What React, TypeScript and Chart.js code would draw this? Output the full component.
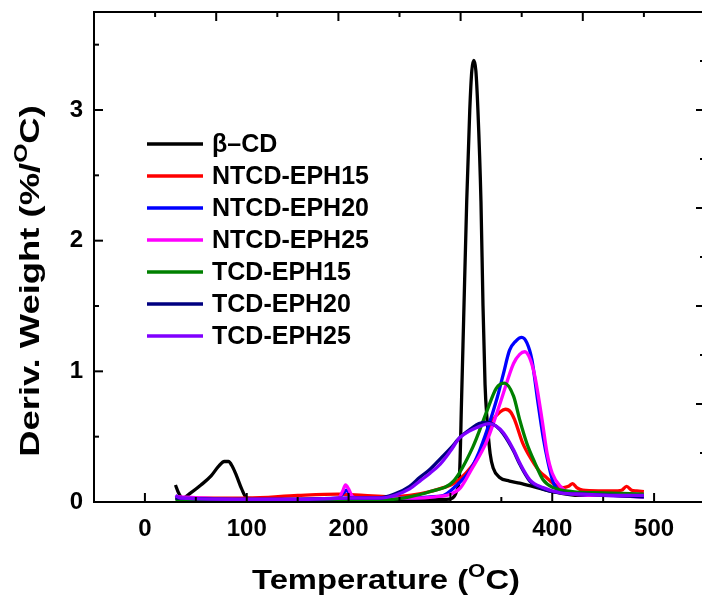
import React, { useEffect, useRef } from "react";
import { Chart, registerables } from "chart.js";

Chart.register(...registerables);

// ---------- data ----------
const seriesNames = ["β–CD", "NTCD-EPH15", "NTCD-EPH20", "NTCD-EPH25", "TCD-EPH15", "TCD-EPH20", "TCD-EPH25"];
const seriesColors = ["#000000", "#ff0000", "#0000ff", "#ff00ff", "#008000", "#000080", "#8000ff"];

const bcdT = [30, 33, 37, 45, 55, 65, 72, 78, 82, 86, 90, 95, 100, 130, 170, 210, 250, 280, 296, 302, 306, 309, 311, 313, 316, 319, 321, 323, 325, 327, 330, 332, 334, 336, 339, 342, 348, 358, 368, 385, 400, 427, 460, 490];
const bcdV = [0.13, 0.07, 0.03, 0.07, 0.13, 0.2, 0.27, 0.31, 0.31, 0.27, 0.2, 0.1, 0.03, 0.02, 0.02, 0.02, 0.02, 0.02, 0.02, 0.03, 0.08, 0.22, 0.8, 1.4, 2.3, 3.0, 3.3, 3.38, 3.3, 3.0, 2.3, 1.5, 0.9, 0.63, 0.37, 0.26, 0.19, 0.16, 0.145, 0.11, 0.08, 0.05, 0.05, 0.05];

const ntcd15T = [30, 60, 100, 150, 190, 215, 240, 260, 280, 293, 303, 315, 329, 342, 349, 354, 359, 363, 371, 380, 388, 394, 401, 411, 416, 420, 424, 430, 445, 460, 468, 473, 478, 483, 490];
const ntcd15V = [0.03, 0.03, 0.03, 0.05, 0.06, 0.05, 0.04, 0.05, 0.08, 0.11, 0.14, 0.22, 0.37, 0.63, 0.69, 0.71, 0.69, 0.63, 0.45, 0.32, 0.23, 0.19, 0.14, 0.11, 0.12, 0.14, 0.11, 0.09, 0.085, 0.085, 0.09, 0.12, 0.09, 0.085, 0.08];

const ntcd20T = [30, 100, 150, 190, 195, 198, 202, 210, 240, 265, 280, 293, 305, 319, 328, 336, 346, 352, 358, 364, 370, 375, 380, 386, 391, 396, 401, 408, 420, 450, 490];
const ntcd20V = [0.03, 0.02, 0.02, 0.03, 0.07, 0.09, 0.05, 0.03, 0.03, 0.03, 0.04, 0.05, 0.12, 0.24, 0.38, 0.55, 0.8, 0.98, 1.16, 1.23, 1.26, 1.22, 1.09, 0.76, 0.5, 0.3, 0.15, 0.08, 0.06, 0.05, 0.04];

const ntcd25T = [30, 100, 150, 190, 194, 197, 200, 204, 210, 240, 265, 285, 300, 310, 320, 336, 349, 362, 368, 373, 378, 383, 390, 395, 400, 408, 420, 450, 490];
const ntcd25V = [0.04, 0.02, 0.02, 0.03, 0.08, 0.13, 0.1, 0.04, 0.03, 0.03, 0.03, 0.04, 0.06, 0.11, 0.24, 0.47, 0.76, 1.06, 1.13, 1.15, 1.1, 0.96, 0.63, 0.37, 0.22, 0.12, 0.06, 0.05, 0.04];

const tcd15T = [30, 100, 150, 200, 240, 260, 280, 303, 322, 336, 345, 353, 362, 368, 375, 383, 391, 401, 420, 450, 490];
const tcd15V = [0.02, 0.01, 0.01, 0.02, 0.02, 0.04, 0.08, 0.16, 0.42, 0.7, 0.87, 0.91, 0.81, 0.63, 0.45, 0.3, 0.17, 0.11, 0.08, 0.07, 0.06];

const tcd20T = [30, 100, 150, 200, 230, 245, 260, 270, 280, 290, 300, 310, 320, 328, 336, 345, 352, 362, 368, 378, 391, 408, 430, 460, 490];
const tcd20V = [0.03, 0.02, 0.02, 0.03, 0.03, 0.06, 0.12, 0.19, 0.25, 0.33, 0.41, 0.5, 0.56, 0.6, 0.61, 0.58, 0.52, 0.39, 0.29, 0.16, 0.1, 0.07, 0.06, 0.05, 0.04];

const tcd25T = [30, 35, 100, 150, 200, 230, 245, 260, 270, 280, 290, 300, 309, 318, 326, 338, 345, 352, 362, 368, 378, 391, 408, 430, 460, 490];
const tcd25V = [0.05, 0.03, 0.02, 0.02, 0.03, 0.03, 0.05, 0.1, 0.16, 0.22, 0.29, 0.39, 0.49, 0.54, 0.57, 0.6, 0.58, 0.53, 0.4, 0.3, 0.17, 0.11, 0.07, 0.06, 0.05, 0.05];

const seriesT = [bcdT, ntcd15T, ntcd20T, ntcd25T, tcd15T, tcd20T, tcd25T];
const seriesV = [bcdV, ntcd15V, ntcd20V, ntcd25V, tcd15V, tcd20V, tcd25V];

const xMajorTicks = [0, 100, 200, 300, 400, 500];
const xMinorTicks = [50, 150, 250, 350, 450];
const yMajorTicks = [0, 1, 2, 3];
const yMinorTicks = [0.5, 1.5, 2.5, 3.5];
const topMajorTicks = [2, 4, 6, 8];
const topMinorTicks = [1, 3, 5, 7, 9];
const rightMajorTicks = [2, 4, 6, 8];
const rightMinorTicks = [1, 3, 5, 7, 9];

const xTitle = [{ t: "Temperature (" }, { t: "O", sup: true }, { t: "C)" }];
const yTitle = [{ t: "Deriv. Weight (%/" }, { t: "O", sup: true }, { t: "C)" }];

const FONT = '"Liberation Sans", Arial, Helvetica, sans-serif';
const CW = 712;
const CH = 599;

function drawRich(ctx: CanvasRenderingContext2D, parts: any[], cx: number, base: number, size: number, supSize: number, supRise: number, sx: number) {
  const widths = parts.map((p) => {
    ctx.font = `bold ${p.sup ? supSize : size}px ${FONT}`;
    return ctx.measureText(p.t).width * sx;
  });
  const total = widths.reduce((a, b) => a + b, 0);
  let x = cx - total / 2;
  parts.forEach((p, i) => {
    ctx.font = `bold ${p.sup ? supSize : size}px ${FONT}`;
    ctx.save();
    ctx.translate(x, p.sup ? base - supRise : base);
    ctx.scale(sx, 1);
    ctx.textAlign = "left";
    ctx.textBaseline = "alphabetic";
    ctx.fillText(p.t, 0, 0);
    ctx.restore();
    x += widths[i];
  });
}

const decor = {
  id: "decor",
  afterDraw(chart: any) {
    const { ctx, chartArea: a, scales } = chart;
    const xs = scales.x, ys = scales.y, x2 = scales.x2, y2 = scales.y2;
    ctx.save();
    ctx.strokeStyle = "#000";
    ctx.fillStyle = "#000";
    ctx.lineWidth = 2;
    ctx.lineCap = "butt";
    ctx.strokeRect(a.left, a.top, a.right - a.left, a.bottom - a.top);
    const line = (x1: number, y1: number, xx: number, yy: number) => {
      ctx.beginPath();
      ctx.moveTo(x1, y1);
      ctx.lineTo(xx, yy);
      ctx.stroke();
    };
    xMajorTicks.forEach((v) => { const p = xs.getPixelForValue(v); line(p, a.bottom, p, a.bottom - 9); });
    xMinorTicks.forEach((v) => { const p = xs.getPixelForValue(v); line(p, a.bottom, p, a.bottom - 5); });
    yMajorTicks.forEach((v) => { const p = ys.getPixelForValue(v); line(a.left, p, a.left + 9, p); });
    yMinorTicks.forEach((v) => { const p = ys.getPixelForValue(v); line(a.left, p, a.left + 5, p); });
    topMajorTicks.forEach((v) => { const p = x2.getPixelForValue(v); line(p, a.top, p, a.top + 9); });
    topMinorTicks.forEach((v) => { const p = x2.getPixelForValue(v); line(p, a.top, p, a.top + 5); });
    rightMajorTicks.forEach((v) => { const p = y2.getPixelForValue(v); line(a.right, p, a.right - 9, p); });
    rightMinorTicks.forEach((v) => { const p = y2.getPixelForValue(v); line(a.right, p, a.right - 5, p); });

    drawRich(ctx, xTitle, 386, 589, 28, 19, 12, 1.17);
    ctx.save();
    ctx.translate(39, 281);
    ctx.rotate(-Math.PI / 2);
    drawRich(ctx, yTitle, 0, 0, 28, 19, 12, 1.3);
    ctx.restore();

    seriesNames.forEach((name, i) => {
      const y = 144 + i * 32;
      ctx.strokeStyle = seriesColors[i];
      ctx.lineWidth = 3.5;
      line(147, y, 203, y);
      ctx.fillStyle = "#000";
      ctx.font = `bold 25px ${FONT}`;
      ctx.textAlign = "left";
      ctx.textBaseline = "middle";
      ctx.fillText(name, 212, y + 1);
    });
    ctx.restore();
  },
};

const noPadH = (s: any) => { s.paddingLeft = 0; s.paddingRight = 0; };
const noPadV = (s: any) => { s.paddingTop = 0; s.paddingBottom = 0; };

export default function App() {
  const ref = useRef<HTMLCanvasElement | null>(null);
  useEffect(() => {
    if (!ref.current) return;
    const datasets = seriesNames.map((name, i) => ({
      label: name,
      data: seriesT[i].map((t, j) => ({ x: t, y: seriesV[i][j] })),
      borderColor: seriesColors[i],
      backgroundColor: seriesColors[i],
      borderWidth: 3.3,
      pointRadius: 0,
      fill: false,
      cubicInterpolationMode: "monotone" as const,
      order: seriesNames.length - 1 - i,
    }));
    const tickFont = { family: FONT, size: 24, weight: "bold" as const };
    const chart = new Chart(ref.current, {
      type: "line",
      data: { datasets },
      options: {
        responsive: false,
        animation: false,
        devicePixelRatio: 1,
        layout: { padding: 0 },
        plugins: { legend: { display: false }, tooltip: { enabled: false } },
        scales: {
          x: {
            type: "linear",
            position: "bottom",
            min: -50,
            max: 550,
            grid: { display: false, drawTicks: false },
            border: { display: false },
            afterBuildTicks: (s: any) => { s.ticks = xMajorTicks.map((v) => ({ value: v })); },
            afterFit: (s: any) => { s.height = 97; noPadH(s); },
            ticks: { font: tickFont, color: "#000", padding: 13, maxRotation: 0, autoSkip: false },
          },
          y: {
            type: "linear",
            position: "left",
            min: 0,
            max: 3.75,
            grid: { display: false, drawTicks: false },
            border: { display: false },
            afterBuildTicks: (s: any) => { s.ticks = yMajorTicks.map((v) => ({ value: v })); },
            afterFit: (s: any) => { s.width = 94; noPadV(s); },
            ticks: { font: tickFont, color: "#000", padding: 11, autoSkip: false },
          },
          x2: {
            type: "linear",
            position: "top",
            min: 0,
            max: 10,
            grid: { display: false, drawTicks: false },
            border: { display: false },
            ticks: { display: false },
            afterFit: (s: any) => { s.height = 12; noPadH(s); },
          },
          y2: {
            type: "linear",
            position: "right",
            min: 0,
            max: 10,
            grid: { display: false, drawTicks: false },
            border: { display: false },
            ticks: { display: false },
            afterFit: (s: any) => { s.width = CW - 705; noPadV(s); },
          },
        },
      },
      plugins: [decor],
    });
    return () => chart.destroy();
  }, []);
  return (
    <div style={{ position: "fixed", left: 0, top: 0, width: 702, height: 599, overflow: "hidden", background: "#fff" }}>
      <canvas ref={ref} width={CW} height={CH} style={{ display: "block", width: CW, height: CH }} />
    </div>
  );
}
